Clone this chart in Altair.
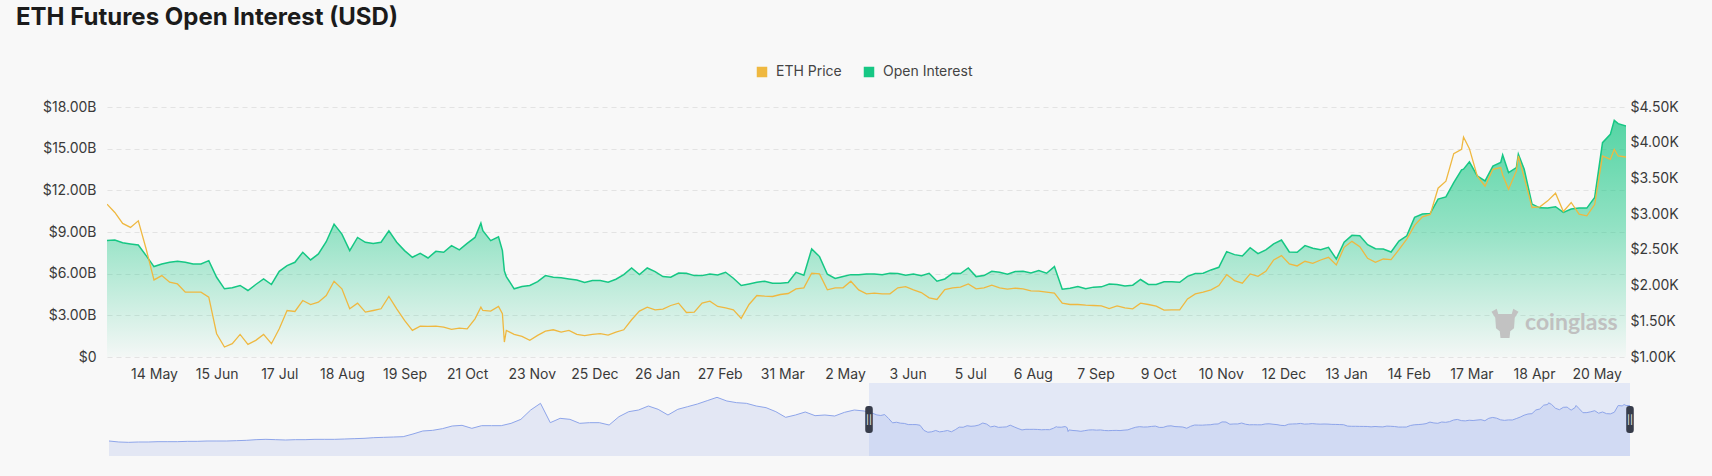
import altair as alt
import pandas as pd

# ---------------- data ----------------
MAIN_START = "2022-04-20"      # first sample of the main chart, one sample every 4 days
MAIN_END = "2024-06-04"
STEP_DAYS = 4

oi_billion = [
    8.38, 8.42, 8.23, 8.14, 8.06, 7.30, 6.51, 6.70, 6.82, 6.89, 6.82, 6.70, 6.70, 6.94, 5.74, 4.91,
    4.98, 5.15, 4.79, 5.22, 5.62, 5.22, 6.17, 6.58, 6.82, 7.54, 6.99, 7.42, 8.30, 9.57, 8.85, 7.66, 8.61,
    8.26, 8.18, 8.26, 9.09, 8.26, 7.66, 7.18, 7.47, 7.13, 7.61, 7.54, 8.02, 7.71, 8.18, 8.61, 9.09,
    8.38, 8.66, 5.79, 4.91, 5.07, 5.15, 5.43, 5.86, 5.74, 5.70, 5.62, 5.55, 5.36, 5.50, 5.50, 5.38, 5.60,
    5.93, 6.41, 5.93, 6.41, 6.15, 5.79, 5.74, 6.05, 6.03, 5.86, 5.86, 5.98, 5.91, 6.10, 5.67, 5.15,
    5.26, 5.38, 5.46, 5.31, 5.31, 5.36, 6.10, 5.89, 7.78, 7.23, 5.96, 5.65, 5.79, 5.93, 5.93, 5.98,
    5.98, 5.93, 6.03, 6.01, 5.89, 5.98, 5.86, 6.03, 5.46, 5.62, 6.03, 6.01, 6.41, 5.79, 5.86, 6.17,
    6.10, 5.96, 6.15, 6.17, 6.05, 6.22, 6.03, 6.51, 4.88, 4.95, 5.07, 4.91, 5.03, 5.05, 5.26, 5.22, 5.12,
    5.17, 5.58, 5.22, 5.22, 5.41, 5.41, 5.38, 5.81, 6.01, 6.03, 6.27, 6.46, 7.59, 7.37, 7.27, 7.87,
    7.44, 7.71, 8.14, 8.42, 7.56, 7.54, 8.02, 7.83, 7.73, 7.90, 7.06, 8.26, 8.76, 8.73, 8.09,
    7.80, 7.78, 7.56, 8.35, 8.73, 10.05, 10.29, 10.34, 11.37, 11.53, 12.56, 13.47, 14.05, 13.04, 12.68,
    13.74, 14.00, 13.28, 13.64, 13.52, 11.01, 10.74, 10.72, 10.82, 10.41, 10.65, 10.72, 10.72, 11.49,
    15.43, 16.03, 16.80, 16.63,
]

eth_price = [
    3140, 3024, 2870, 2814, 2907, 2512, 2079, 2140, 2047, 2023, 1907, 1907, 1907, 1837, 1326, 1140,
    1186, 1316, 1177, 1233, 1316, 1186, 1395, 1651, 1637, 1791, 1735, 1768, 1861, 2061, 1954, 1675, 1754,
    1628, 1651, 1675, 1847, 1675, 1512, 1372, 1433, 1428, 1433, 1419, 1386, 1405, 1395, 1535, 1651,
    1642, 1707, 1372, 1316, 1288, 1233, 1302, 1363, 1381, 1349, 1372, 1316, 1298, 1316, 1326, 1307, 1349,
    1381, 1521, 1642, 1698, 1661, 1670, 1721, 1754, 1623, 1628, 1754, 1782, 1707, 1688, 1661, 1540,
    1735, 1861, 1851, 1847, 1875, 1889, 1954, 1968, 2172, 2163, 1940, 1968, 1968, 2061, 1940, 1884,
    1893, 1884, 1884, 1968, 1986, 1940, 1902, 1828, 1805, 1944, 1968, 1977, 2023, 1954, 1968, 2005,
    1968, 1949, 1963, 1954, 1926, 1921, 1907, 1893, 1754, 1735, 1735, 1726, 1721, 1716, 1679, 1716, 1688,
    1675, 1754, 1735, 1712, 1656, 1661, 1661, 1814, 1884, 1907, 1940, 2000, 2154, 2070, 2033, 2163,
    2130, 2200, 2358, 2419, 2303, 2275, 2340, 2312, 2358, 2396, 2289, 2535, 2619, 2544, 2382,
    2326, 2372, 2363, 2503, 2651, 2842, 2963, 2996, 3363, 3461, 3847, 3908, 3917, 3535, 3391,
    3628, 3652, 3349, 3605, 3512, 3093, 3103, 3186, 3293, 3038, 3163, 3000, 2977, 3135,
    3814, 3768, 3814, 3800,
]

# a few sharp daily extremes that fall between the 4-day samples
extra_dates = ["2022-10-28", "2022-11-08", "2022-11-09", "2024-03-13", "2024-04-02", "2024-04-10", "2024-05-29"]
extra_oi = [9.64, 7.66, 6.20, 13.52, 14.55, 14.60, 17.04]
extra_price = [1698, 1605, 1209, 4080, 3549, 3814, 3907]

# navigator: earlier ETH price history, one sample every 10 days
NAV_START = "2020-03-06"
NAV_STEP_DAYS = 10
nav_early_price = [
    266, 166, 132, 166, 166, 199, 199, 199, 232, 232, 266, 266, 266, 299, 332, 399, 432, 399, 365, 399,
    399, 432, 432, 432, 465, 499, 532, 599, 632, 665, 698, 965, 1265, 1331, 1498, 1764, 1831, 1531,
    1797, 1797, 1797, 2030, 2430, 3362, 4028, 2097, 2530, 2430, 2030, 2097, 2097, 1864, 2696, 3196,
    3362, 3762, 3429, 2863, 3429, 3695, 3962, 4295, 4628, 4262, 4095, 4028, 3762, 3596, 3196, 2630,
    2863, 3163, 2796, 2863, 2763, 3129, 3362, 3263,
]

tick_dates = [
    "2022-05-14", "2022-06-15", "2022-07-17", "2022-08-18", "2022-09-19", "2022-10-21", "2022-11-23",
    "2022-12-25", "2023-01-26", "2023-02-27", "2023-03-31", "2023-05-02", "2023-06-03", "2023-07-05",
    "2023-08-06", "2023-09-07", "2023-10-09", "2023-11-10", "2023-12-12", "2024-01-13", "2024-02-14",
    "2024-03-17", "2024-04-18", "2024-05-20",
]
oi_ticks = [0, 3, 6, 9, 12, 15, 18]
price_ticks = [1000, 1500, 2000, 2500, 3000, 3500, 4000, 4500]
series_names = ["ETH Price", "Open Interest"]

# ---------------- tables ----------------
main_dates = pd.date_range(MAIN_START, periods=len(oi_billion), freq=f"{STEP_DAYS}D")
main_df = pd.concat([
    pd.DataFrame({"date": main_dates.strftime("%Y-%m-%d"), "oi": oi_billion, "price": eth_price}),
    pd.DataFrame({"date": extra_dates, "oi": extra_oi, "price": extra_price}),
]).sort_values("date").reset_index(drop=True)

early_dates = pd.date_range(NAV_START, periods=len(nav_early_price), freq=f"{NAV_STEP_DAYS}D")
nav_df = pd.DataFrame({
    "date": list(early_dates.strftime("%Y-%m-%d")) + list(main_df["date"]),
    "price": nav_early_price + list(main_df["price"]),
})
sel_df = pd.DataFrame({"start": [MAIN_START], "end": [MAIN_END]})
handle_df = pd.DataFrame({"date": [MAIN_START, MAIN_END]})
legend_df = pd.DataFrame({"series": series_names, "date": [MAIN_START, MAIN_START], "v": [-50, -50]})


def dt(s):
    y, m, d = (int(p) for p in s.split("-"))
    return alt.DateTime(year=y, month=m, date=d, utc=True)


GREEN = "#16c784"
YELLOW = "#efb840"
FONT = "Inter"
LABEL_SIZE = 14
W, H = 1519, 250

main_x_scale = alt.Scale(type="utc", domain=[dt(MAIN_START), dt(MAIN_END)], nice=False)
nav_x_scale = alt.Scale(type="utc", domain=[dt(NAV_START), dt(MAIN_END)], nice=False, range=[2, 1523])
oi_scale = alt.Scale(domain=[0, 18], nice=False, zero=False)
price_scale = alt.Scale(domain=[1000, 4500], nice=False, zero=False)
NAV_MIN, NAV_MAX = -1233, 6060
nav_y_scale = alt.Scale(domain=[NAV_MIN, NAV_MAX], nice=False, zero=False, range=[349, 276])

gradient = alt.Gradient(
    gradient="linear",
    stops=[
        alt.GradientStop(color="rgba(22,199,132,0.02)", offset=0),
        alt.GradientStop(color="rgba(22,199,132,0.45)", offset=0.55),
        alt.GradientStop(color="rgba(22,199,132,0.72)", offset=1),
    ],
    x1=1, x2=1, y1=1, y2=0,
)

base = alt.Chart(main_df)

oi_area = base.mark_area(color=gradient, clip=True).encode(
    x=alt.X("date:T", scale=main_x_scale, axis=None),
    y=alt.Y("oi:Q", scale=oi_scale, axis=None),
)

oi_line = base.mark_line(color=GREEN, strokeWidth=1.5, clip=True).encode(
    x=alt.X(
        "date:T", scale=main_x_scale, title=None,
        axis=alt.Axis(
            values=[dt(d) for d in tick_dates], format="%-d %b", labelAngle=0,
            ticks=False, domain=False, grid=False, labelPadding=10,
            labelFontSize=LABEL_SIZE, labelColor="#3a3a3a", labelFont=FONT,
            labelOverlap=False,
        ),
    ),
    y=alt.Y(
        "oi:Q", scale=oi_scale, title=None,
        axis=alt.Axis(
            orient="left", values=oi_ticks, ticks=False, domain=False, labelPadding=11,
            grid=True, gridColor="#e3e3e3", gridDash=[5, 4], gridWidth=1,
            labelExpr="datum.value == 0 ? '$0' : '$' + format(datum.value, '.2f') + 'B'",
            labelFontSize=LABEL_SIZE, labelColor="#3a3a3a", labelFont=FONT,
        ),
    ),
)

price_line = base.mark_line(color=YELLOW, strokeWidth=1.3, clip=True).encode(
    x=alt.X("date:T", scale=main_x_scale, axis=None),
    y=alt.Y(
        "price:Q", scale=price_scale, title=None,
        axis=alt.Axis(
            orient="right", values=price_ticks, ticks=False, domain=False, grid=False,
            labelPadding=4,
            labelExpr="'$' + format(datum.value / 1000, '.2f') + 'K'",
            labelFontSize=LABEL_SIZE, labelColor="#3a3a3a", labelFont=FONT,
        ),
    ),
)

nav_area = alt.Chart(nav_df).mark_area(color="rgba(125,150,225,0.17)").encode(
    x=alt.X("date:T", scale=nav_x_scale, axis=None),
    y=alt.Y("price:Q", scale=nav_y_scale, axis=None),
    y2=alt.Y2(datum=NAV_MIN),
)

nav_sel = alt.Chart(sel_df).mark_rect(color="rgba(125,155,240,0.17)").encode(
    x=alt.X("start:T", scale=nav_x_scale, axis=None),
    x2="end:T",
    y=alt.Y(datum=NAV_MAX, scale=nav_y_scale, axis=None),
    y2=alt.Y2(datum=NAV_MIN),
)

nav_line = alt.Chart(nav_df).mark_line(color="#8ea5ea", strokeWidth=1).encode(
    x=alt.X("date:T", scale=nav_x_scale, axis=None),
    y=alt.Y("price:Q", scale=nav_y_scale, axis=None),
)

HANDLE = ("M -0.28 -0.78 Q -0.28 -1 -0.06 -1 L 0.06 -1 Q 0.28 -1 0.28 -0.78 "
          "L 0.28 0.78 Q 0.28 1 0.06 1 L -0.06 1 Q -0.28 1 -0.28 0.78 Z")
nav_handles = alt.Chart(handle_df).mark_point(
    shape=HANDLE, size=729, filled=True, color="#373c4a", opacity=1, strokeWidth=0
).encode(
    x=alt.X("date:T", scale=nav_x_scale, axis=None),
    y=alt.Y(datum=(NAV_MIN + NAV_MAX) / 2, scale=nav_y_scale, axis=None),
)
nav_handle_marks = alt.Chart(handle_df).mark_text(
    text="||", color="#ffffff", fontSize=9, font=FONT, baseline="middle", align="center"
).encode(
    x=alt.X("date:T", scale=nav_x_scale, axis=None),
    y=alt.Y(datum=(NAV_MIN + NAV_MAX) / 2, scale=nav_y_scale, axis=None),
)

# watermark
LOGO = ("M -0.9 -0.75 L -0.55 -0.95 L -0.45 -0.6 L 0.45 -0.6 L 0.55 -0.95 L 0.9 -0.75 "
        "L 0.65 -0.35 L 0.6 0.35 L 0.35 0.55 L 0.3 1 L -0.3 1 L -0.35 0.55 L -0.6 0.35 L -0.65 -0.35 Z")
wm_logo = alt.Chart(pd.DataFrame({"t": ["logo"]})).mark_point(
    shape=LOGO, size=900, filled=True, color="#c2c2c2", opacity=1, strokeWidth=0
).encode(x=alt.value(1398), y=alt.value(216))
wm_text = alt.Chart(pd.DataFrame({"t": ["coinglass"]})).mark_text(
    font="Lato", fontSize=23, fontWeight="bold", color="#c0c0c0", align="left", baseline="middle"
).encode(text="t:N", x=alt.value(1418), y=alt.value(216))

# legend (points are clipped away; only the legend shows)
legend_layer = alt.Chart(legend_df).mark_point(
    shape="square", filled=True, opacity=1, size=10, clip=True
).encode(
    x=alt.X("date:T", scale=main_x_scale, axis=None),
    y=alt.Y("v:Q", scale=oi_scale, axis=None),
    fill=alt.Fill(
        "series:N",
        scale=alt.Scale(domain=series_names, range=[YELLOW, GREEN]),
        legend=alt.Legend(
            orient="none", legendX=648, legendY=-42, direction="horizontal", title=None,
            symbolType="square", symbolSize=110, symbolStrokeWidth=0, symbolOpacity=1,
            labelFontSize=14, labelColor="#444444", labelFont=FONT,
            columnPadding=20, labelOffset=7,
        ),
    ),
)

chart = alt.layer(
    oi_area, oi_line, price_line,
    nav_area, nav_sel, nav_line, nav_handles, nav_handle_marks,
    wm_logo, wm_text, legend_layer,
).resolve_scale(
    x="independent", y="independent"
).properties(
    width=W, height=H,
    padding={"left": 107, "top": 107, "right": 86, "bottom": 119},
    autosize=alt.AutoSizeParams(type="none"),
    background="#f8f8f8",
    title=alt.TitleParams(
        text="ETH Futures Open Interest (USD)", anchor="start", frame="group",
        dx=-91, fontSize=24, font=FONT, fontWeight=700, color="#1b1b1b", offset=35,
    ),
).configure_view(stroke=None)

chart.save("out.html", embed_options={"renderer": "svg", "actions": False})
